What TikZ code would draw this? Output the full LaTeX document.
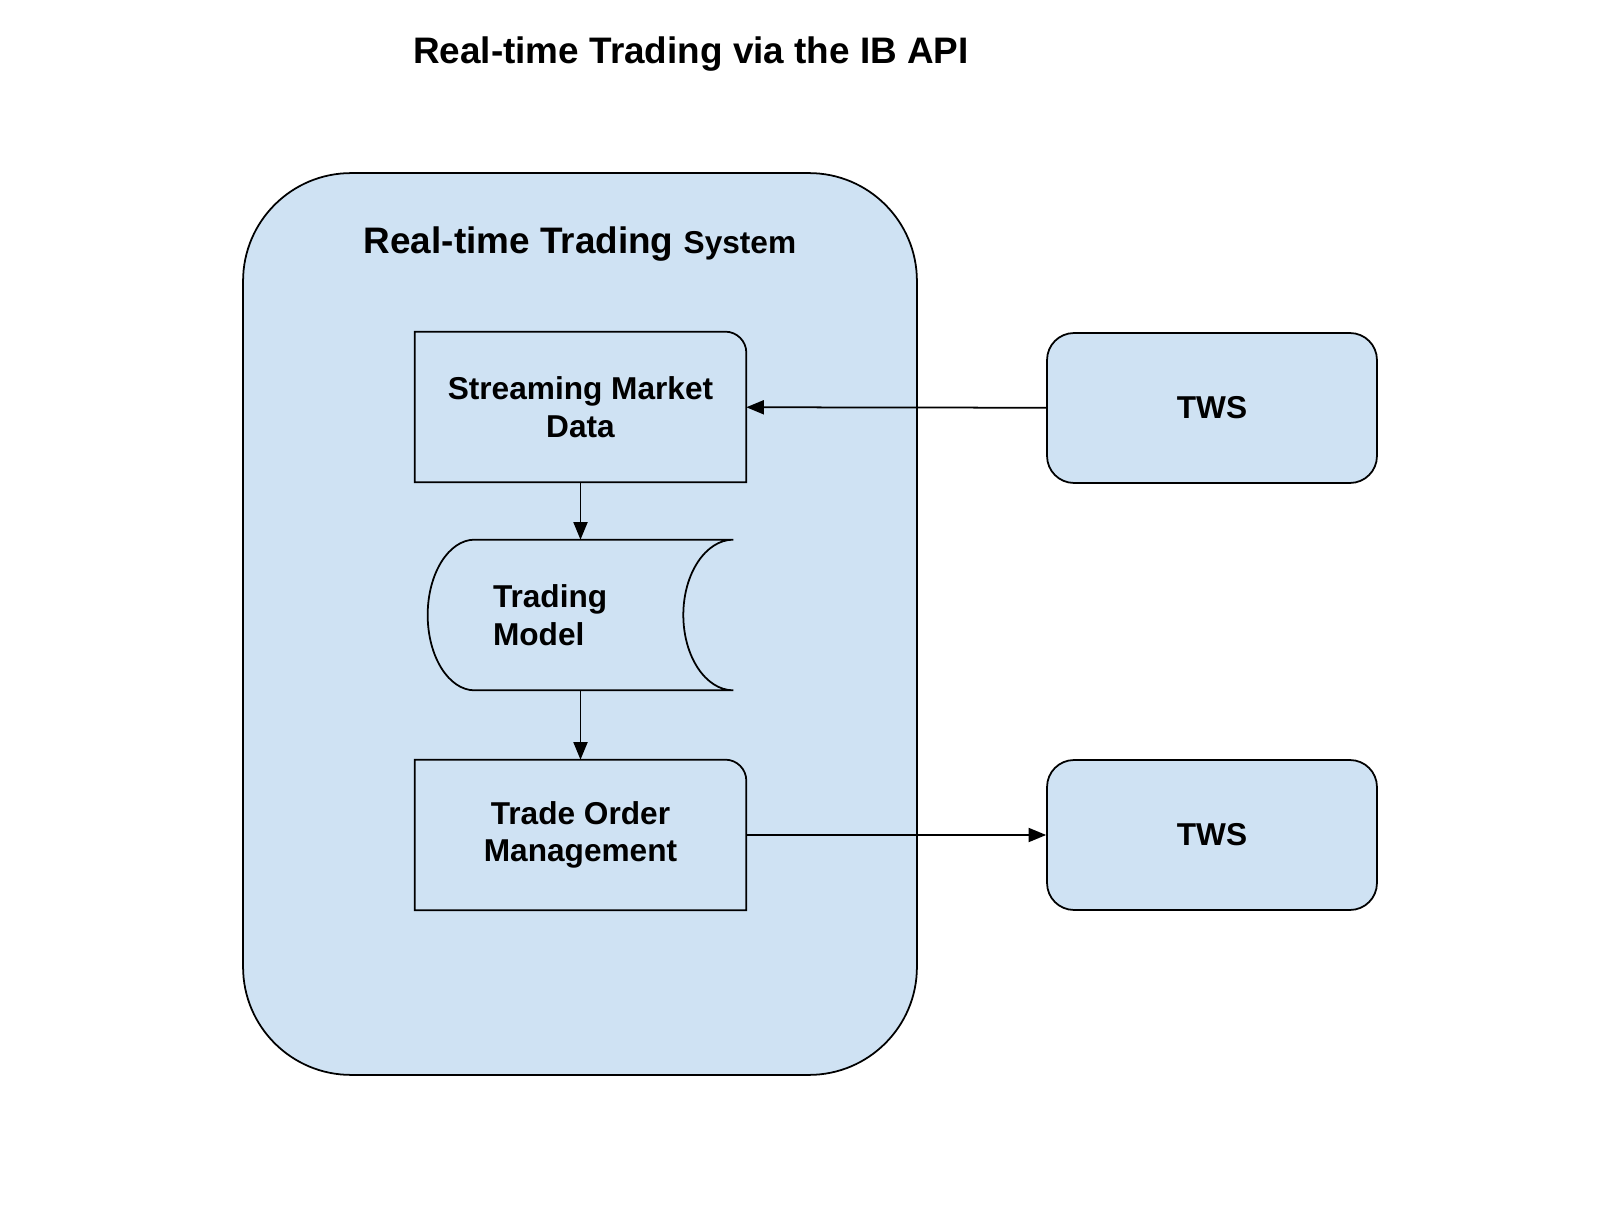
\documentclass[tikz,border=0pt]{standalone}
\usepackage{fontspec}
\setmainfont{Liberation Sans}
\usepackage{tikz}
\usetikzlibrary{arrows.meta, positioning, calc, backgrounds}
\definecolor{tsblue}{HTML}{CFE2F3}
\definecolor{tsline}{HTML}{000000}

\begin{document}
\begin{tikzpicture}[
  x=0.02cm, y=-0.02cm,
  every node/.style={font=\fontsize{18}{21.5}\selectfont\bfseries},
  sysbox/.style={rectangle, draw=tsline, fill=tsblue, line width=1pt, rounded corners=2.16cm, minimum width=13.48cm, minimum height=18.04cm},
  procbox/.style={rectangle, minimum width=6.62cm, minimum height=3cm, align=center},
  storebox/.style={rectangle, minimum width=6.1cm, minimum height=3cm, inner xsep=1.3cm, text width=3.5cm, align=left},
  twsbox/.style={rectangle, draw=tsline, fill=tsblue, line width=1pt, rounded corners=0.54cm, minimum width=6.6cm, minimum height=3cm},
  outline/.style={draw=tsline, fill=tsblue, line width=1pt},
  flow/.style={-{Triangle[length=10pt, width=8pt]}, tsline, line width=1pt},
]
\useasboundingbox (0,0) rectangle (1617,1209);

% Title
\node[font=\fontsize{21}{25}\selectfont\bfseries, anchor=base] (title) at (691,64) {Real-time Trading via the IB API};

% Trading system blocks
\node[procbox] (smd) at (580.5,407) {Streaming Market\\Data};
\node[storebox] (tm) at (580.5,615) {Trading\\Model};
\node[procbox] (tom) at (580.5,835) {Trade Order\\Management};

\begin{scope}[on background layer]
\node[sysbox] (sys) at (580,624) {};
\draw[outline] (smd.south west) -- (smd.north west) -- ([xshift=-12pt]smd.north east)
  to[out=0, in=90] ([yshift=-12pt]smd.north east) -- (smd.south east) -- cycle;
\draw[outline] ($(tm.north west)+(47,0)$) -- (tm.north east)
  .. controls +(-27.6,0) and +(0,-41.4) .. ($(tm.east)+(-50,0)$)
  .. controls +(0,41.4) and +(-27.6,0) .. (tm.south east)
  -- ($(tm.south west)+(47,0)$)
  .. controls +(-26,0) and +(0,41.4) .. (tm.west)
  .. controls +(0,-41.4) and +(-26,0) .. ($(tm.north west)+(47,0)$) -- cycle;
\draw[outline] (tom.south west) -- (tom.north west) -- ([xshift=-12pt]tom.north east)
  to[out=0, in=90] ([yshift=-12pt]tom.north east) -- (tom.south east) -- cycle;
\end{scope}

\node[font=\fontsize{21}{25}\selectfont\bfseries, anchor=base] (systitle) at (580,254) {Real-time Trading {\fontsize{18}{21}\selectfont System}};

% TWS gateways
\node[twsbox] (tws1) at (1212,408) {TWS};
\node[twsbox] (tws2) at (1212,835) {TWS};

\draw[flow] (tws1) -- (smd);
\draw[flow] (smd) -- (tm);
\draw[flow] (tm) -- (tom);
\draw[flow] (tom) -- (tws2);

\end{tikzpicture}
\end{document}
